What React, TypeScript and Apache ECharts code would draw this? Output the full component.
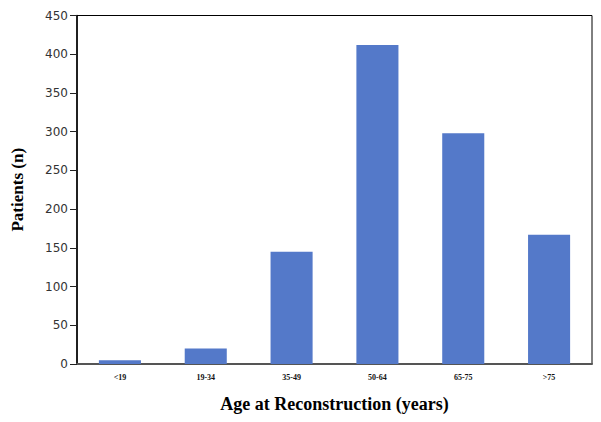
import React, { useEffect, useRef } from "react";
import * as echarts from "echarts";

const categories = ["<19", "19-34", "35-49", "50-64", "65-75", ">75"];
const patients = [5, 20, 145, 412, 298, 167];
const yTicks = { min: 0, max: 450, interval: 50 };

export default function App() {
  const ref = useRef<HTMLDivElement>(null);
  useEffect(() => {
    if (!ref.current) return;
    const chart = echarts.init(ref.current, undefined, { renderer: "svg" });
    chart.setOption({
      animation: false,
      backgroundColor: "#ffffff",
      grid: {
        left: 77,
        top: 15.5,
        right: 9,
        bottom: 58,
        show: true,
        borderColor: "#000",
        borderWidth: 1,
        backgroundColor: "transparent",
      },
      xAxis: {
        type: "category",
        data: categories,
        name: "Age at Reconstruction (years)",
        nameLocation: "middle",
        nameGap: 31,
        nameTextStyle: {
          fontFamily: "Liberation Serif, Times New Roman, serif",
          fontWeight: "bold",
          fontSize: 18,
          color: "#000",
        },
        axisLine: { lineStyle: { color: "#555", width: 2 } },
        axisTick: { show: false },
        axisLabel: {
          fontFamily: "Liberation Serif, Times New Roman, serif",
          fontWeight: "bold",
          fontSize: 8,
          color: "#111",
          margin: 9,
        },
      },
      yAxis: {
        type: "value",
        min: yTicks.min,
        max: yTicks.max,
        interval: yTicks.interval,
        name: "Patients (n)",
        nameLocation: "middle",
        nameGap: 51,
        nameRotate: 90,
        nameTextStyle: {
          fontFamily: "Liberation Serif, Times New Roman, serif",
          fontWeight: "bold",
          fontSize: 17,
          color: "#000",
        },
        axisLine: { show: true, lineStyle: { color: "#000", width: 1.5 } },
        axisTick: { show: true, length: 7, lineStyle: { color: "#222" } },
        axisLabel: {
          fontFamily: "DejaVu Sans, Verdana, sans-serif",
          fontSize: 12,
          color: "#333",
          margin: 9,
        },
        splitLine: { show: false },
      },
      series: [
        {
          type: "bar",
          data: patients,
          barWidth: "49%",
          itemStyle: { color: "#5479C9" },
        },
      ],
    });
    return () => chart.dispose();
  }, []);
  return <div ref={ref} style={{ width: 601, height: 422, position: "absolute", left: 0, top: 0 }} />;
}
